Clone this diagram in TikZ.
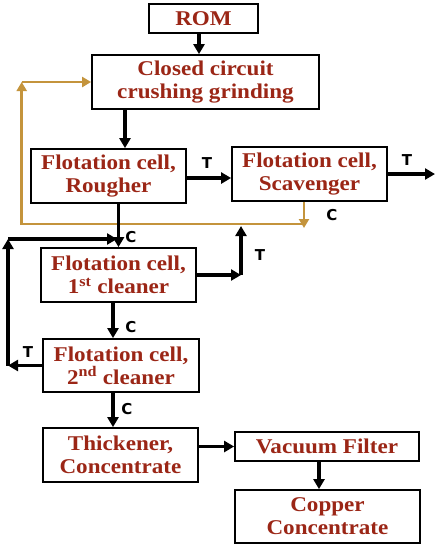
\documentclass[tikz,border=0pt]{standalone}
\usepackage{fontspec}
\setmainfont{Liberation Serif}[FakeStretch=1.1]
\newfontfamily\labfont{DejaVu Sans}
\usetikzlibrary{arrows.meta,calc}
\definecolor{txtred}{RGB}{155,38,22}
\definecolor{goldline}{RGB}{196,148,60}
\tikzset{
 box/.style={draw=black, line width=1.8pt, fill=white, text=txtred,
   font=\fontsize{21}{23}\selectfont\bfseries, align=center, inner sep=0pt},
 arr/.style={line width=3.2pt, -{Triangle[length=10pt,width=11pt]}},
 brarr/.style={draw=goldline, line width=2.6pt, -{Triangle[length=9pt,width=10pt]}},
 lab/.style={font=\labfont\bfseries\fontsize{15}{16}\selectfont, inner sep=0pt}
}
\begin{document}
\begin{tikzpicture}[x=1pt,y=-1pt]
\useasboundingbox[fill=white] (0,0) rectangle (438,550);
\node[box, minimum width=109pt, minimum height=29pt] (rom) at (203.5,18.5) {ROM};
\node[box, minimum width=227pt, minimum height=54pt] (ccg) at (205.5,82) {Closed circuit\\crushing grinding};
\node[box, minimum width=155pt, minimum height=54pt] (rough) at (108.5,176) {Flotation cell,\\Rougher};
\node[box, minimum width=155pt, minimum height=54pt] (scav) at (309.5,174) {Flotation cell,\\Scavenger};
\node[box, minimum width=155pt, minimum height=54pt] (cl1) at (118.5,275) {Flotation cell,\\1\textsuperscript{st} cleaner};
\node[box, minimum width=156pt, minimum height=53pt] (cl2) at (121,365.5) {Flotation cell,\\2\textsuperscript{nd} cleaner};
\node[box, minimum width=155pt, minimum height=54pt] (thick) at (120.5,455) {Thickener,\\Concentrate};
\node[box, minimum width=184pt, minimum height=29pt] (vac) at (327,446.5) {Vacuum Filter};
\node[box, minimum width=185pt, minimum height=53pt] (cop) at (327.5,516.5) {Copper\\Concentrate};

\draw[arr] ([xshift=-4.5pt]rom.south) -- ([xshift=-6.5pt]ccg.north);
\coordinate (r1) at ([xshift=16.5pt]rough.north);
\draw[arr] (ccg.south -| r1) -- (r1);
\draw[arr] ([yshift=-2pt]rough.east) -- ([yshift=-2pt]rough.east -| scav.west);
\node[lab] (t1) at (207,163) {T};
\coordinate (out) at (435,174);
\draw[arr] (scav.east) -- (out);
\node[lab] (t2) at (407,160) {T};

\coordinate (sc1) at ([xshift=-5.5pt]scav.south);
\coordinate (sc2) at (304,228);
\coordinate (b1) at (304,224);
\coordinate (b2) at (21.7,224);
\coordinate (b3) at (21.7,82);
\draw[brarr] (b1) -- (b2) -- (b3);
\draw[brarr] (b3) -- (ccg.west);
\draw[brarr] (sc1) -- (sc2);
\node[lab] (c1) at (332,215) {C};

\coordinate (j1) at (rough.south -| cl1.north);
\draw[arr] (j1) -- (cl1.north);
\node[lab] (c2) at (131,237) {C};

\coordinate (k1) at (8,365.5);
\coordinate (k2) at (8,239);
\coordinate (k3) at (117,239);
\draw[arr] (cl2.west) -- (k1);
\draw[arr] (k1) -- (k2);
\draw[arr] (k2) -- (k3);
\node[lab] (t3) at (28,352) {T};

\coordinate (m1) at (241,275);
\coordinate (m2) at (241,226);
\draw[arr] (cl1.east) -- (m1);
\draw[arr] (m1) -- (m2);
\node[lab] (t4) at (260,255) {T};

\coordinate (n1) at ([xshift=-5.5pt]cl1.south);
\draw[arr] (n1) -- (n1 |- cl2.north);
\node[lab] (c3) at (131,327) {C};
\coordinate (n2) at ([xshift=-8pt]cl2.south);
\draw[arr] (n2) -- (n2 |- thick.north);
\node[lab] (c4) at (127,409) {C};

\draw[arr] (thick.east |- vac.west) -- (vac.west);
\coordinate (v1) at ([xshift=-8pt]vac.south);
\draw[arr] (v1) -- (v1 |- cop.north);
\end{tikzpicture}
\end{document}
